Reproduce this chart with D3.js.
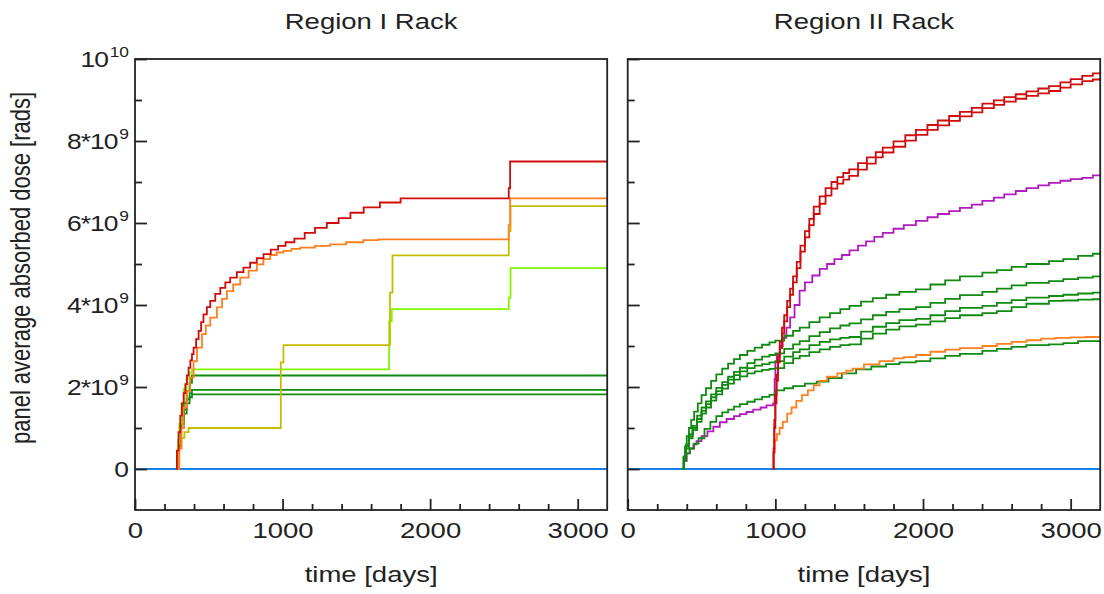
<!DOCTYPE html>
<html>
<head>
<meta charset="utf-8">
<script src="https://cdn.jsdelivr.net/npm/d3@7"></script>
<style>
body { margin: 0; background: #fff; }
text { font-family: "Liberation Sans", Arial, sans-serif; fill: #222; }
</style>
</head>
<body>
<svg id="chart" width="1104" height="594"></svg>
<script>
// time in days, dose in units of 1e9 rads
let xTicks = [0, 1000, 2000, 3000];
let xMinorTicks = [200, 400, 600, 800, 1200, 1400, 1600, 1800, 2200, 2400, 2600, 2800];
let yTicks = [0, 2, 4, 6, 8, 10];
let yMinorTicks = [1, 3, 5, 7, 9];
let yTickLabels = [["0", ""], ["2*10", "9"], ["4*10", "9"], ["6*10", "9"], ["8*10", "9"], ["10", "10"]];
let panelTitles = ["Region I Rack", "Region II Rack"];

// Region I
let leftBlue = [[0, 0], [3200, 0]];
let leftGreenA = [[280, 0], [295, 0.7], [310, 1.2], [330, 1.6], [350, 1.9], [370, 2.1], [386, 2.28], [3200, 2.28]];
let leftGreenB = [[280, 0], [295, 0.6], [310, 1.1], [330, 1.45], [350, 1.7], [370, 1.85], [386, 1.93], [3200, 1.93]];
let leftGreenC = [[280, 0], [295, 0.55], [310, 1.0], [330, 1.35], [350, 1.6], [370, 1.75], [386, 1.82], [3200, 1.82]];
let leftLime = [[280, 0], [290, 0.6], [300, 1.1], [315, 1.6], [330, 1.95], [350, 2.2], [370, 2.35], [386, 2.43],
  [1722, 3.6], [1740, 3.9], [2533, 4.18], [2545, 4.9], [3200, 4.9]];
let leftOlive = [[280, 0], [290, 0.28], [300, 0.52], [315, 0.76], [335, 0.9], [363, 1.0], [988, 2.6], [1006, 3.02],
  [1728, 4.3], [1745, 5.21], [2533, 5.8], [2545, 6.41], [3200, 6.41]];
let leftOrange = [[290, 0], [300, 0.5], [315, 1.0], [329, 1.5], [352, 1.9], [374, 2.23], [397, 2.63], [420, 2.96],
  [454, 3.29], [480, 3.5], [510, 3.69], [555, 3.94], [590, 4.15], [623, 4.34], [665, 4.5], [713, 4.67], [770, 4.84],
  [826, 4.99], [870, 5.12], [916, 5.22], [960, 5.28], [1006, 5.32], [1060, 5.37], [1119, 5.4], [1220, 5.44],
  [1322, 5.48], [1430, 5.53], [1548, 5.58], [1650, 5.6], [2533, 5.95], [2542, 6.6], [3200, 6.6]];
let leftRed = [[280, 0], [284, 0.45], [295, 0.9], [307, 1.3], [318, 1.6], [330, 1.85], [341, 2.07], [352, 2.28],
  [363, 2.47], [375, 2.65], [386, 2.8], [397, 2.96], [414, 3.17], [431, 3.37], [448, 3.58], [464, 3.77], [487, 3.95],
  [510, 4.1], [544, 4.27], [578, 4.42], [612, 4.55], [645, 4.67], [690, 4.8], [735, 4.91], [780, 5.03], [825, 5.14],
  [871, 5.24], [920, 5.35], [970, 5.44], [1020, 5.53], [1080, 5.62], [1150, 5.76], [1220, 5.88], [1300, 6.0],
  [1380, 6.12], [1460, 6.25], [1550, 6.38], [1660, 6.5], [1800, 6.6], [2533, 6.85], [2542, 7.5], [3200, 7.5]];

// Region II
let rightBlue = [[0, 0], [3200, 0]];
let rightMagenta = [[370, 0], [380, 0.2], [400, 0.38], [420, 0.5], [445, 0.6], [466, 0.68], [500, 0.8], [540, 0.92],
  [580, 1.03], [624, 1.14], [670, 1.22], [720, 1.29], [760, 1.34], [804, 1.39], [850, 1.45], [900, 1.5], [940, 1.55],
  [985, 1.6], [995, 2.2], [1000, 2.6], [1010, 2.8], [1030, 3.0], [1050, 3.2], [1075, 3.45], [1100, 3.7], [1130, 4.0],
  [1164, 4.35], [1200, 4.55], [1250, 4.72], [1300, 4.88], [1350, 5.0], [1400, 5.12], [1450, 5.22], [1502, 5.33],
  [1560, 5.45], [1614, 5.55], [1670, 5.66], [1727, 5.76], [1800, 5.86], [1870, 5.95], [1952, 6.05], [2030, 6.14],
  [2100, 6.22], [2177, 6.29], [2250, 6.37], [2330, 6.45], [2402, 6.54], [2480, 6.62], [2550, 6.7], [2628, 6.78],
  [2700, 6.85], [2780, 6.92], [2853, 6.98], [2930, 7.03], [3000, 7.07], [3078, 7.1], [3150, 7.16], [3200, 7.19]];
let rightGreenA = [[370, 0], [378, 0.3], [388, 0.55], [400, 0.8], [415, 1.0], [430, 1.2], [450, 1.4], [475, 1.6],
  [500, 1.8], [530, 1.97], [565, 2.15], [600, 2.31], [640, 2.45], [680, 2.57], [720, 2.68], [760, 2.78], [810, 2.88],
  [860, 2.96], [910, 3.03], [960, 3.09], [1000, 3.13], [1060, 3.25], [1120, 3.37], [1165, 3.45], [1230, 3.58],
  [1300, 3.7], [1370, 3.8], [1440, 3.9], [1502, 3.98], [1580, 4.08], [1660, 4.17], [1750, 4.25], [1840, 4.32],
  [1952, 4.38], [2050, 4.5], [2150, 4.6], [2250, 4.7], [2402, 4.79], [2500, 4.85], [2600, 4.93], [2700, 5.0],
  [2853, 5.07], [2950, 5.12], [3050, 5.2], [3150, 5.25], [3200, 5.28]];
let rightGreenB = [[370, 0], [380, 0.3], [395, 0.6], [415, 0.85], [440, 1.05], [470, 1.3], [500, 1.5], [530, 1.65],
  [565, 1.82], [600, 1.98], [640, 2.12], [680, 2.25], [720, 2.37], [760, 2.47], [810, 2.58], [860, 2.67], [910, 2.74],
  [960, 2.78], [1000, 2.82], [1060, 2.93], [1120, 3.04], [1165, 3.12], [1230, 3.24], [1300, 3.34], [1370, 3.43],
  [1440, 3.5], [1502, 3.55], [1580, 3.65], [1660, 3.75], [1750, 3.83], [1840, 3.9], [1952, 3.95], [2050, 4.05],
  [2150, 4.15], [2250, 4.24], [2402, 4.32], [2500, 4.4], [2600, 4.48], [2700, 4.54], [2853, 4.58], [2950, 4.63],
  [3050, 4.67], [3150, 4.7], [3200, 4.71]];
let rightGreenC = [[370, 0], [380, 0.28], [395, 0.55], [415, 0.8], [440, 1.0], [470, 1.22], [500, 1.42], [530, 1.58],
  [565, 1.75], [600, 1.9], [640, 2.05], [680, 2.18], [720, 2.29], [760, 2.38], [810, 2.46], [860, 2.52], [910, 2.56],
  [960, 2.6], [1000, 2.63], [1060, 2.74], [1120, 2.85], [1165, 2.92], [1230, 3.02], [1300, 3.1], [1370, 3.16],
  [1440, 3.2], [1502, 3.22], [1580, 3.35], [1660, 3.47], [1750, 3.56], [1840, 3.63], [1952, 3.66], [2050, 3.75],
  [2150, 3.85], [2250, 3.93], [2402, 3.98], [2500, 4.05], [2600, 4.12], [2700, 4.18], [2853, 4.22], [2950, 4.25],
  [3050, 4.28], [3150, 4.3], [3200, 4.3]];
let rightGreenD = [[370, 0], [380, 0.26], [395, 0.5], [415, 0.75], [440, 0.95], [470, 1.15], [500, 1.35], [530, 1.5],
  [565, 1.67], [600, 1.82], [640, 1.96], [680, 2.08], [720, 2.18], [760, 2.26], [810, 2.33], [860, 2.38], [910, 2.42],
  [960, 2.44], [1000, 2.46], [1060, 2.58], [1120, 2.7], [1165, 2.76], [1230, 2.85], [1300, 2.92], [1370, 2.98],
  [1440, 3.02], [1502, 3.04], [1580, 3.18], [1660, 3.3], [1750, 3.4], [1840, 3.48], [1952, 3.52], [2050, 3.6],
  [2150, 3.68], [2250, 3.75], [2402, 3.8], [2500, 3.85], [2600, 3.95], [2700, 4.03], [2853, 4.1], [2950, 4.11],
  [3050, 4.13], [3150, 4.14], [3200, 4.14]];
let rightGreenE = [[370, 0], [380, 0.2], [395, 0.38], [420, 0.5], [450, 0.62], [480, 0.75], [520, 0.98], [560, 1.15],
  [600, 1.29], [640, 1.38], [680, 1.45], [720, 1.52], [760, 1.58], [810, 1.64], [860, 1.7], [910, 1.76], [960, 1.81],
  [995, 1.84], [1000, 1.92], [1060, 1.97], [1120, 2.02], [1200, 2.08], [1280, 2.13], [1360, 2.22], [1450, 2.33],
  [1547, 2.43], [1650, 2.5], [1750, 2.56], [1840, 2.6], [1952, 2.63], [2050, 2.7], [2150, 2.76], [2250, 2.81],
  [2402, 2.88], [2500, 2.93], [2600, 2.98], [2700, 3.02], [2853, 3.04], [2950, 3.07], [3050, 3.12], [3200, 3.12]];
let rightOrange = [[984, 0], [988, 0.4], [995, 0.7], [1010, 0.85], [1029, 1.0], [1050, 1.15], [1080, 1.35],
  [1110, 1.5], [1142, 1.66], [1180, 1.8], [1220, 1.92], [1260, 2.04], [1299, 2.15], [1350, 2.25], [1420, 2.33],
  [1480, 2.4], [1524, 2.45], [1600, 2.55], [1705, 2.63], [1800, 2.7], [1870, 2.73], [1953, 2.78], [2050, 2.86],
  [2150, 2.91], [2250, 2.95], [2403, 3.0], [2500, 3.05], [2600, 3.1], [2700, 3.14], [2800, 3.18], [2899, 3.2],
  [3000, 3.21], [3100, 3.22], [3200, 3.22]];
let rightRedA = [[984, 0], [988, 0.5], [993, 1.2], [1000, 1.8], [1008, 2.3], [1018, 2.75], [1030, 3.1], [1045, 3.45],
  [1060, 3.75], [1080, 4.1], [1100, 4.4], [1120, 4.7], [1145, 5.05], [1170, 5.45], [1200, 5.8], [1230, 6.1],
  [1260, 6.4], [1300, 6.65], [1340, 6.85], [1380, 7.0], [1420, 7.12], [1460, 7.22], [1500, 7.31], [1560, 7.46],
  [1620, 7.6], [1680, 7.73], [1727, 7.84], [1800, 7.99], [1880, 8.14], [1952, 8.27], [2030, 8.39], [2100, 8.5],
  [2177, 8.61], [2250, 8.71], [2330, 8.81], [2402, 8.91], [2480, 8.99], [2550, 9.07], [2628, 9.14], [2700, 9.21],
  [2780, 9.28], [2853, 9.34], [2930, 9.43], [3000, 9.51], [3078, 9.59], [3150, 9.65], [3200, 9.69]];
let rightRedB = [[984, 0], [988, 0.4], [993, 1.0], [1000, 1.6], [1008, 2.15], [1018, 2.6], [1030, 2.95], [1045, 3.3],
  [1060, 3.6], [1080, 3.95], [1100, 4.25], [1120, 4.55], [1145, 4.9], [1170, 5.3], [1200, 5.65], [1230, 5.95],
  [1260, 6.22], [1300, 6.47], [1340, 6.67], [1380, 6.84], [1420, 6.96], [1460, 7.06], [1500, 7.15], [1560, 7.3],
  [1620, 7.45], [1680, 7.6], [1727, 7.72], [1800, 7.86], [1880, 8.01], [1952, 8.15], [2030, 8.27], [2100, 8.38],
  [2177, 8.49], [2250, 8.6], [2330, 8.7], [2402, 8.8], [2480, 8.88], [2550, 8.96], [2628, 9.03], [2700, 9.1],
  [2780, 9.16], [2853, 9.22], [2930, 9.3], [3000, 9.38], [3078, 9.46], [3150, 9.5], [3200, 9.53]];

let svg = d3.select("#chart");
let plotTop = 59, plotBottom = 510;
let stretch = "scale(1.25,1)";   // glyphs in the original are wide

let yScale = d3.scaleLinear().domain([-1, 10]).range([plotBottom, plotTop]);

let panels = [
  { title: panelTitles[0], range: [135, 607.2], labels: true,
    series: [[leftBlue, "#1a7fe8"], [leftGreenA, "#118a11"], [leftGreenB, "#118a11"], [leftGreenC, "#118a11"],
      [leftLime, "#84f400"], [leftOlive, "#c4bc00"], [leftOrange, "#ff8020"], [leftRed, "#d00c0c"]] },
  { title: panelTitles[1], range: [627.7, 1100.2], labels: false,
    series: [[rightBlue, "#1a7fe8"], [rightMagenta, "#b01cc0"], [rightGreenA, "#118a11"], [rightGreenB, "#118a11"],
      [rightGreenC, "#118a11"], [rightGreenD, "#118a11"], [rightGreenE, "#118a11"], [rightOrange, "#ff8020"],
      [rightRedB, "#d00c0c"], [rightRedA, "#d00c0c"]] }
];

let styleAxis = function (a) {
  a.select(".domain").remove();
  a.selectAll(".tick line").attr("stroke", "#222").attr("stroke-width", 1.8);
};

let drawPanel = function (p) {
  let xScale = d3.scaleLinear().domain([0, 3200]).range(p.range);
  let g = svg.append("g");

  let lineGenerator = d3.line()
    .x(d => xScale(d[0]))
    .y(d => yScale(d[1]))
    .curve(d3.curveStepAfter);

  p.series.forEach(s => {
    g.append("path").datum(s[0])
      .attr("d", lineGenerator)
      .attr("fill", "none")
      .attr("stroke", s[1])
      .attr("stroke-width", 1.8);
  });

  // x ticks point up into the plot
  g.append("g").attr("transform", `translate(0,${plotBottom})`)
    .call(d3.axisBottom(xScale).tickValues(xMinorTicks).tickSize(-6).tickFormat(""))
    .call(styleAxis);
  let xa = g.append("g").attr("transform", `translate(0,${plotBottom})`)
    .call(d3.axisBottom(xScale).tickValues(xTicks).tickSize(-11).tickPadding(12).tickFormat(d3.format("d")))
    .call(styleAxis);
  xa.selectAll("text").attr("font-size", 22).attr("fill", "#222")
    .attr("font-family", "Liberation Sans, Arial, sans-serif").attr("transform", stretch);

  // y ticks point right
  g.append("g").attr("transform", `translate(${p.range[0]},0)`)
    .call(d3.axisLeft(yScale).tickValues(yMinorTicks).tickSize(-7).tickFormat(""))
    .call(styleAxis);
  g.append("g").attr("transform", `translate(${p.range[0]},0)`)
    .call(d3.axisLeft(yScale).tickValues(yTicks).tickSize(-12).tickFormat(""))
    .call(styleAxis);

  if (p.labels) {
    yTicks.forEach((v, i) => {
      let lab = yTickLabels[i];
      let t = g.append("text")
        .attr("transform", `translate(129,${yScale(v)}) scale(1.2,1)`)
        .attr("text-anchor", "end").attr("y", 8).attr("font-size", 22);
      t.append("tspan").attr("letter-spacing", lab[1] ? -0.8 : 0).text(lab[0]);
      if (lab[1]) {
        t.append("tspan").attr("dx", 1.5).attr("dy", -10).attr("font-size", 14.5).text(lab[1]);
      }
    });
  }

  // frame
  g.append("rect")
    .attr("x", p.range[0]).attr("y", plotTop)
    .attr("width", p.range[1] - p.range[0]).attr("height", plotBottom - plotTop)
    .attr("fill", "none").attr("stroke", "#222").attr("stroke-width", 1.8);

  let mid = (p.range[0] + p.range[1]) / 2;
  svg.append("text").attr("transform", `translate(${mid},28.5) ${stretch}`)
    .attr("text-anchor", "middle").attr("font-size", 22).text(p.title);
  svg.append("text").attr("transform", `translate(${mid},582) ${stretch}`)
    .attr("text-anchor", "middle").attr("font-size", 22).text("time [days]");
};

panels.forEach(drawPanel);

svg.append("text").attr("transform", `translate(30,268) ${stretch} rotate(-90)`)
  .attr("text-anchor", "middle").attr("font-size", 22).text("panel average absorbed dose [rads]");
</script>
</body>
</html>
